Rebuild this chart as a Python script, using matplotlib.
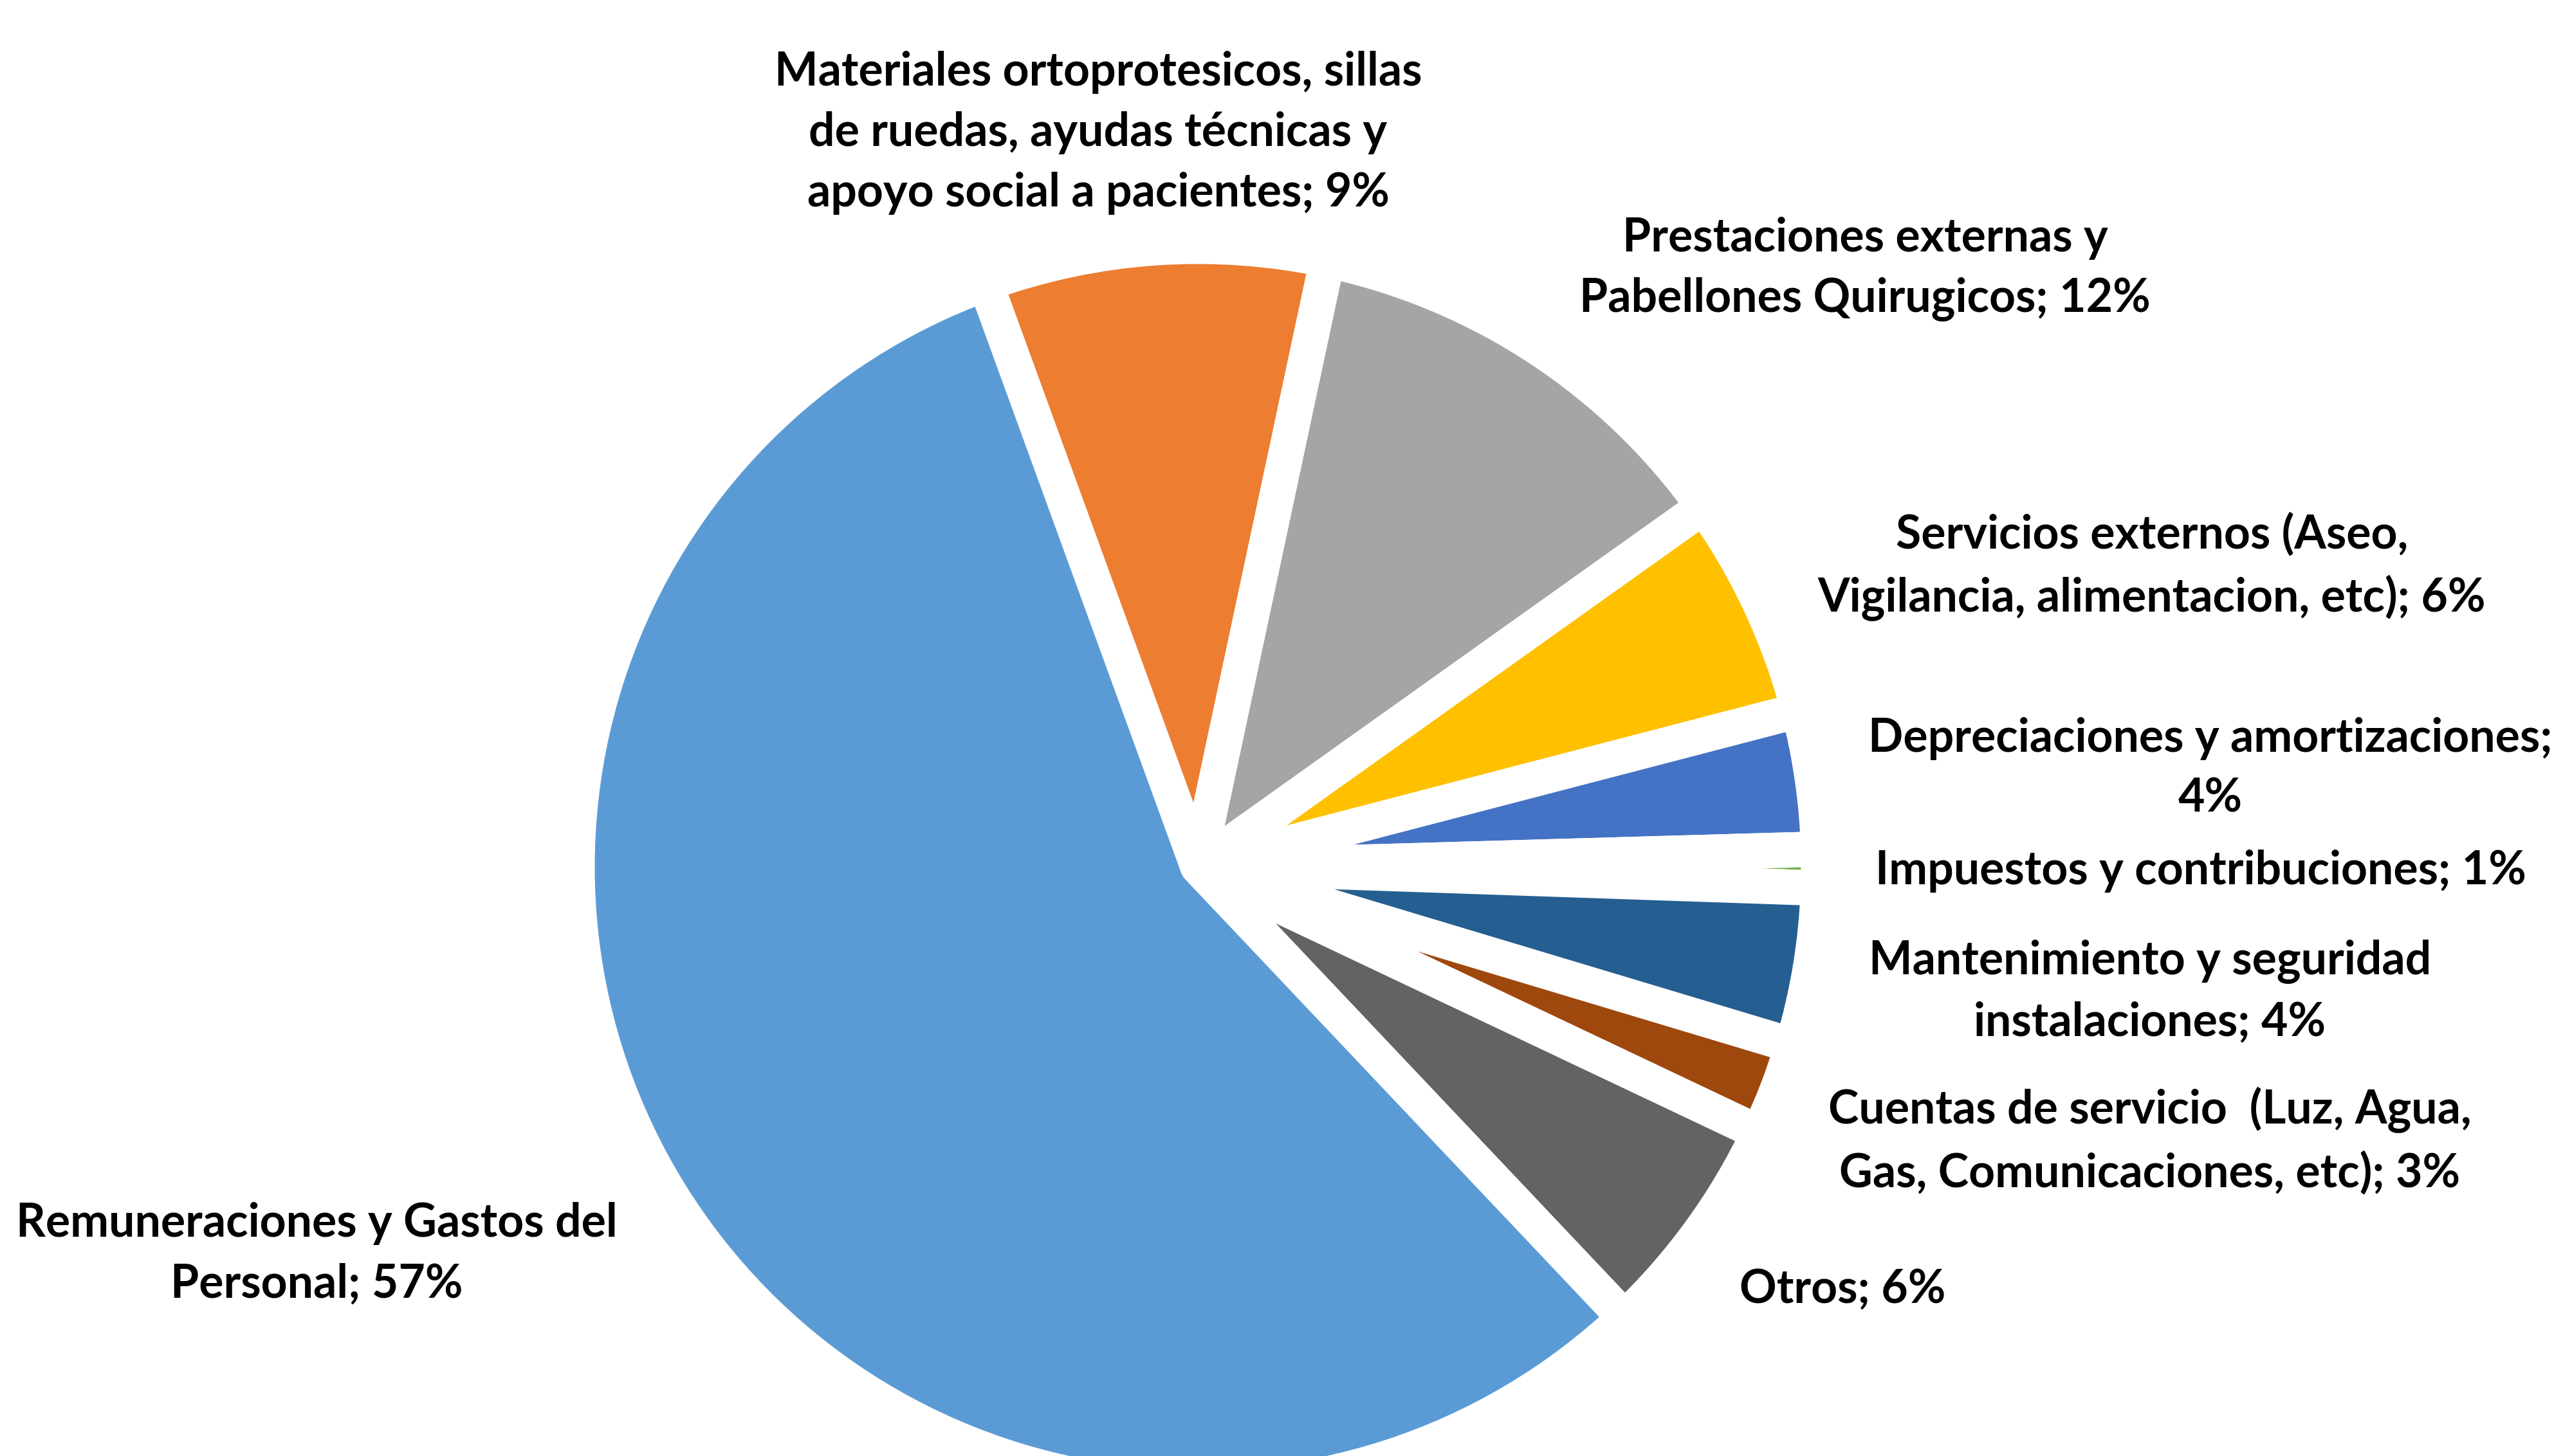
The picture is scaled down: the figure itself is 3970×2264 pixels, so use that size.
import matplotlib.pyplot as plt

W, H = 3970, 2264
DPI = 100

# datos (% del gasto), en orden horario desde arriba
categorias = [
    "Materiales ortoprotesicos, sillas\nde ruedas, ayudas técnicas y\napoyo social a pacientes",
    "Prestaciones externas y\nPabellones Quirugicos",
    "Servicios externos (Aseo,\nVigilancia, alimentacion, etc)",
    "Depreciaciones y amortizaciones",
    "Impuestos y contribuciones",
    "Mantenimiento y seguridad\ninstalaciones",
    "Cuentas de servicio  (Luz, Agua,\nGas, Comunicaciones, etc)",
    "Otros",
    "Remuneraciones y Gastos del\nPersonal",
]
valores = [8.9, 11.8, 5.8, 3.6, 1.0, 4.1, 2.4, 5.9, 56.5]
porcentajes = ["9%", "12%", "6%", "4%", "1%", "4%", "3%", "6%", "57%"]
separador = ["; ", "; ", "; ", ";\n", "; ", "; ", "; ", "; ", "; "]

colores = ['#ED7D31', '#A5A5A5', '#FFC000', '#4472C4', '#70AD47',
           '#255E91', '#9E480E', '#636363', '#5B9BD5']

# posicion de las etiquetas (pixeles de imagen, centro del bloque)
pos_etiquetas = [(1707, 206), (2899, 418), (3345, 881), (3436, 1195),
                 (3421, 1355), (3342, 1542), (3342, 1774), (2864, 2005),
                 (492, 1950)]

fig = plt.figure(figsize=(W / DPI, H / DPI), dpi=DPI)
ax = fig.add_axes([0, 0, 1, 1])

ax.pie(valores, colors=colores, startangle=110, counterclock=False,
       center=(1862, H - 1348), radius=965, frame=True,
       wedgeprops=dict(edgecolor='white', linewidth=39.6, joinstyle='round'))

ax.set_xlim(0, W)
ax.set_ylim(0, H)
ax.set_aspect('equal')
ax.axis('off')

for i in range(len(categorias)):
    txt = categorias[i] + separador[i] + porcentajes[i]
    x, y = pos_etiquetas[i]
    ax.text(x, H - y, txt, ha='center', va='center', fontsize=51.5,
            fontweight='bold', family=['Lato', 'DejaVu Sans'],
            linespacing=1.5, color='black')

fig.savefig('out.png', dpi=DPI, facecolor='white')
